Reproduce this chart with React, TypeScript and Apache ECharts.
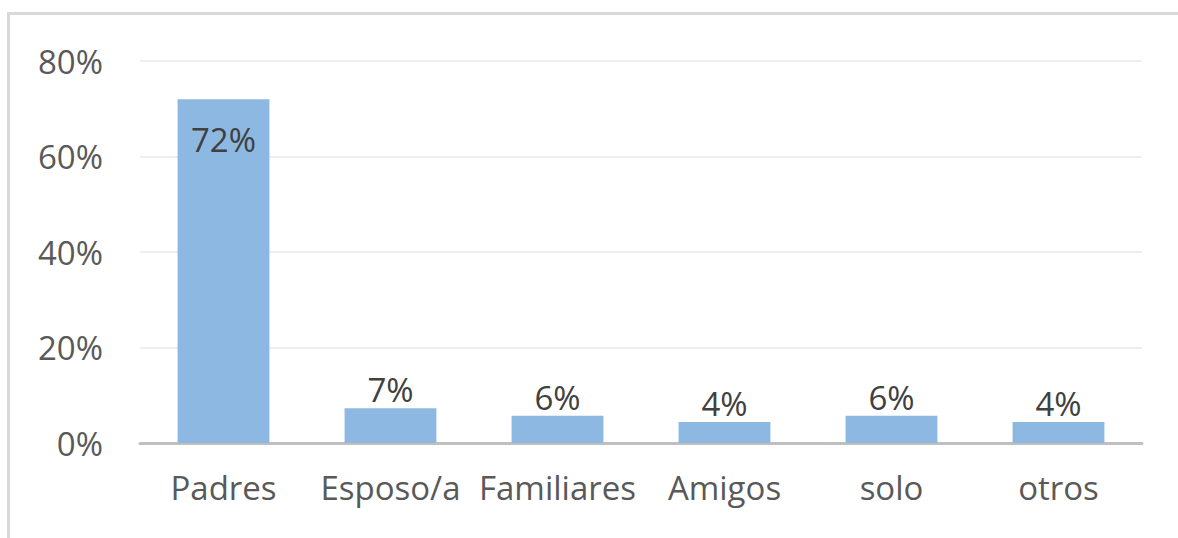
import React, { useEffect, useRef } from "react";
import * as echarts from "echarts";

const categories = ["Padres", "Esposo/a", "Familiares", "Amigos", "solo", "otros"];
const values = [0.72, 0.073, 0.057, 0.044, 0.057, 0.044];
const yTicks = [0, 0.2, 0.4, 0.6, 0.8];

export default function App() {
  const ref = useRef<HTMLDivElement>(null);
  useEffect(() => {
    if (!ref.current) return;
    const chart = echarts.init(ref.current, undefined, { renderer: "svg" });
    const font = "Open Sans, Liberation Sans, sans-serif";
    chart.setOption({
      animation: false,
      backgroundColor: "#ffffff",
      graphic: [
        {
          type: "rect",
          shape: { x: 8.5, y: 13.5, width: 1300, height: 700 },
          style: { fill: "none", stroke: "#d9d9d9", lineWidth: 3 },
          silent: true,
        },
      ],
      grid: { left: 140, right: 36, top: 61, bottom: 95, containLabel: false },
      xAxis: {
        type: "category",
        data: categories,
        axisLine: { show: true, lineStyle: { color: "#bfbfbf", width: 3 } },
        axisTick: { show: false },
        axisLabel: { color: "#595959", fontSize: 33, fontFamily: font, margin: 28, interval: 0 },
      },
      yAxis: {
        type: "value",
        min: yTicks[0],
        max: yTicks[yTicks.length - 1],
        interval: 0.2,
        axisLine: { show: false },
        axisTick: { show: false },
        splitLine: { lineStyle: { color: "#eeeeee", width: 2 } },
        axisLabel: {
          color: "#595959",
          fontSize: 33,
          fontFamily: font,
          margin: 37,
          formatter: (v: number) => Math.round(v * 100) + "%",
        },
      },
      series: [
        {
          type: "bar",
          data: values.map((v, i) => ({
            value: v,
            label: {
              show: true,
              position: i === 0 ? "insideTop" : "top",
              distance: i === 0 ? 24 : 2,
            },
          })),
          barWidth: "55%",
          itemStyle: { color: "#8db8e2" },
          label: {
            show: true,
            color: "#404040",
            fontSize: 33,
            fontFamily: font,
            formatter: (p: any) => Math.round(p.value * 100) + "%",
          },
        },
      ],
    });
    return () => chart.dispose();
  }, []);
  return (
    <div
      ref={ref}
      style={{ position: "fixed", left: 0, top: 0, width: 1178, height: 538 }}
    />
  );
}
